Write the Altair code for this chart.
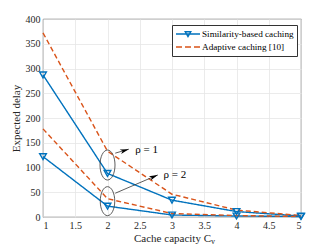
import altair as alt
import pandas as pd

caps = [1, 2, 3, 4, 5]
sim_rho1 = [287, 88, 34, 11, 2]
adapt_rho1 = [372, 133, 46, 14, 3]
sim_rho2 = [122, 22, 4, 2, 1]
adapt_rho2 = [178, 37, 7, 3, 1]
series_names = ["Similarity-based caching", "Adaptive caching [10]"]
colors = ["#0072BD", "#D95319"]

x_ticks = [1, 1.5, 2, 2.5, 3, 3.5, 4, 4.5, 5]
y_ticks = [0, 50, 100, 150, 200, 250, 300, 350, 400]

# annotation positions (data units)
ell_x = [2, 2]
ell_y = [105, 32]
ell_size = [900, 841]
arrow_x1 = [2.12, 2.12]
arrow_y1 = [129, 48]
arrow_x2 = [2.33, 2.78]
arrow_y2 = [137, 85]
arrow_angle = [73, 67]
label_x = [2.43, 2.87]
label_y = [135, 85]
labels = ["ρ = 1", "ρ = 2"]

rows = []
for s, rho, vals in [(series_names[0], 1, sim_rho1), (series_names[1], 1, adapt_rho1),
                     (series_names[0], 2, sim_rho2), (series_names[1], 2, adapt_rho2)]:
    for c, v in zip(caps, vals):
        rows.append({"cap": c, "delay": v, "series": s, "rho": rho, "key": f"{s}-{rho}"})
df = pd.DataFrame(rows)

ann = pd.DataFrame({"ex": ell_x, "ey": ell_y, "es": ell_size,
                    "ax1": arrow_x1, "ay1": arrow_y1, "ax2": arrow_x2, "ay2": arrow_y2,
                    "ang": arrow_angle, "lx": label_x, "ly": label_y, "lab": labels})

FONT = "Liberation Serif"
xs = alt.Scale(domain=[1, 5], nice=False)
ys = alt.Scale(domain=[0, 400], nice=False)
cs = alt.Scale(domain=series_names, range=colors)
ax_x = alt.Axis(values=x_ticks, format="~g", title="Cache capacity C", labelOverlap=False)
ax_y = alt.Axis(values=y_ticks, title="Expected delay", labelOverlap=False)


def X(f):
    return alt.X(f, type="quantitative", scale=xs, axis=ax_x)


def Y(f):
    return alt.Y(f, type="quantitative", scale=ys, axis=ax_y)


lines = alt.Chart(df).mark_line(strokeWidth=1.4).encode(
    x=X("cap"), y=Y("delay"),
    stroke=alt.Stroke("series:N", scale=cs, legend=None),
    strokeDash=alt.StrokeDash("series:N", scale=alt.Scale(domain=series_names, range=[[1, 0], [5, 3]]), legend=None),
    detail="key:N",
)

pts = alt.Chart(df).transform_filter(
    alt.datum.series == series_names[0]
).mark_point(shape="triangle-down", filled=False, size=45, strokeWidth=1.4, opacity=1,
             color=colors[0]).encode(
    x=X("cap"), y=Y("delay"),
)

path_sim = "M-1,0L3.8,0M0.85,-0.45L1.95,-0.45L1.4,0.5Z"
path_ad = "M-1,0L0.2,0M0.8,0L2,0M2.6,0L3.8,0"
leg = alt.Legend(title=None, orient="none", legendX=129, legendY=6, symbolSize=100,
                 labelOffset=15, padding=3, rowPadding=1, strokeColor="#333333",
                 fillColor="white", labelFont=FONT, labelFontSize=9.2, labelColor="#000000",
                 symbolStrokeWidth=1.4, symbolFillColor="transparent", labelLimit=200)
legend_layer = alt.Chart(df).transform_filter("false").mark_point(
    filled=False, size=100, strokeWidth=1.4, opacity=1
).encode(
    x=X("cap"), y=Y("delay"),
    shape=alt.Shape("series:N", scale=alt.Scale(domain=series_names, range=[path_sim, path_ad]), legend=leg),
    color=alt.Color("series:N", scale=cs, legend=leg),
)

ellipse_path = "M0,-1A0.5,1 0 1,1 0,1A0.5,1 0 1,1 0,-1Z"
ellipses = alt.Chart(ann).mark_point(shape=ellipse_path, filled=False, color="#333333",
                                     strokeWidth=0.8, opacity=1).encode(
    x=X("ex"), y=Y("ey"), size=alt.Size("es:Q", scale=None, legend=None))

arrows = alt.Chart(ann).mark_rule(color="#333333", strokeWidth=0.8).encode(
    x=X("ax1"), y=Y("ay1"), x2="ax2:Q", y2="ay2:Q")

heads = alt.Chart(ann).mark_point(shape="M0,0L-0.6,2.2L0,1.6L0.6,2.2Z", filled=True, color="#000000",
                                  size=64, opacity=1).encode(
    x=X("ax2"), y=Y("ay2"), angle=alt.Angle("ang:Q", scale=None))

texts = alt.Chart(ann).mark_text(align="left", baseline="middle", font=FONT, fontSize=11,
                                 color="#000000").encode(
    x=X("lx"), y=Y("ly"), text="lab:N")

sub = alt.Chart(ann.head(1)).mark_text(align="left", baseline="middle", font=FONT, fontSize=8,
                                       color="#262626").encode(
    x=alt.value(168), y=alt.value(223), text=alt.value("v"))

chart = alt.layer(lines, pts, ellipses, arrows, heads, texts, sub, legend_layer).resolve_scale(
    color="independent", shape="independent"
).properties(
    width=258, height=198,
    autosize=alt.AutoSizeParams(type="none"),
    padding={"left": 35, "top": 11, "right": 15, "bottom": 30},
).configure(font=FONT).configure_view(
    stroke="#262626", strokeWidth=0.8
).configure_axis(
    grid=True, gridColor="#e6e6e6", gridWidth=0.8, domain=False, ticks=False,
    labelFont=FONT, labelFontSize=10, labelColor="#262626", labelPadding=3,
    titleFont=FONT, titleFontSize=11, titleFontWeight="normal", titleColor="#262626",
).configure_axisX(titlePadding=2).configure_axisY(titlePadding=4)

chart.save("out.html", embed_options={"renderer": "svg", "actions": False})
